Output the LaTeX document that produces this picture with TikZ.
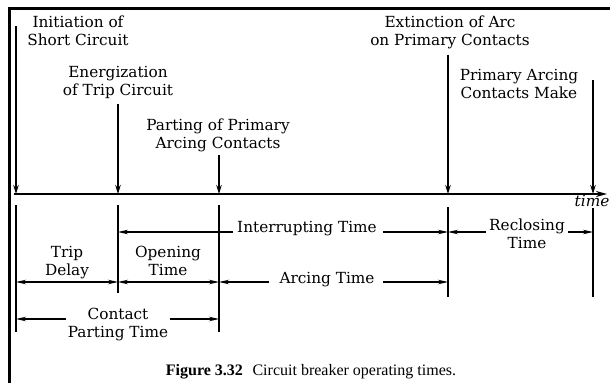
\documentclass[tikz,border=0pt]{standalone}
\usepackage{fontspec}
\setmainfont{DejaVu Serif}
\newfontfamily\capfont{Liberation Serif}
\usetikzlibrary{arrows.meta,calc}
\begin{document}
\begin{tikzpicture}[x=1pt,y=-1pt,
  lbl/.style={font=\fontsize{15.3}{17.5}\selectfont, align=center, inner sep=0pt, anchor=base},
  frame/.style={line width=2.4pt},
  axisline/.style={line width=1.8pt, -{Stealth[length=11pt,width=6pt]}},
  drop/.style={line width=1.5pt, -{Stealth[length=9pt,width=5.5pt]}},
  bar/.style={line width=1.4pt},
  span/.style={line width=1.1pt, -{Stealth[length=10pt,width=4.5pt]}},
  both/.style={line width=1.1pt, {Stealth[length=10pt,width=4.5pt]}-{Stealth[length=10pt,width=4.5pt]}},
]
\useasboundingbox (0,0) rectangle (610,383);

% page frame (top and left rules)
\draw[frame] (9.5,383) -- (9.5,8.5) -- (610,8.5);

% time axis and event instants
\coordinate (a0) at (14,194);
\coordinate (a1) at (607,194);
\draw[axisline] (a0) -- (a1);
\coordinate (e1) at (16,194);
\coordinate (e2) at (118,194);
\coordinate (e3) at (219,194);
\coordinate (e4) at (448,194);
\coordinate (e5) at (593,194);
\node[lbl, font=\fontsize{15.3}{17.5}\selectfont\itshape] (timelbl) at (592,206) {time};

% event labels (placed by the baseline of their last line) and their arrows
\node[lbl] (initiation) at (78,45) {Initiation of\\Short Circuit};
\node[lbl] (energ) at (118,95) {Energization\\of Trip Circuit};
\node[lbl] (parting) at (218,148) {Parting of Primary\\Arcing Contacts};
\node[lbl] (extinct) at (450,45) {Extinction of Arc\\on Primary Contacts};
\node[lbl] (make) at (519,98) {Primary Arcing\\Contacts Make};

\coordinate (s1) at (16,26);
\coordinate (s5) at (593,80);
\draw[drop] (s1) -- (e1);
\draw[drop] ($(energ.south -| e2)+(0,6)$) -- (e2);
\draw[drop] ($(parting.south -| e3)+(0,3)$) -- (e3);
\draw[drop] ($(extinct.south -| e4)+(0,6)$) -- (e4);
\draw[drop] (s5) -- (e5);

% interval bars below the axis
\coordinate (b1t) at (16,205);  \coordinate (b1b) at (16,332);
\coordinate (b2t) at (118,205); \coordinate (b2b) at (118,293);
\coordinate (b3t) at (219,205); \coordinate (b3b) at (219,332);
\coordinate (b4t) at (448,207); \coordinate (b4b) at (448,297);
\coordinate (b5t) at (593,208); \coordinate (b5b) at (593,297);
\draw[bar] (b1t) -- (b1b);
\draw[bar] (b2t) -- (b2b);
\draw[bar] (b3t) -- (b3b);
\draw[bar] (b4t) -- (b4b);
\draw[bar] (b5t) -- (b5b);

% rows of interval arrows
\coordinate (rowA) at (0,232);
\coordinate (rowB) at (0,282);
\coordinate (rowC) at (0,319);

\node[lbl] (intr) at (307,232) {Interrupting Time};
\draw[span] ($(intr.west |- rowA)+(-4,0)$) -- (b2t |- rowA);
\draw[span] ($(intr.east |- rowA)+(6,0)$) -- (b4t |- rowA);

\node[lbl] (reclose) at (527,248) {Reclosing\\Time};
\draw[span] ($(reclose.west |- rowA)+(-3,0)$) -- (b4t |- rowA);
\draw[span] ($(reclose.east |- rowA)+(3,0)$) -- (b5t |- rowA);

\node[lbl] (trip) at (67,275) {Trip\\Delay};
\node[lbl] (open) at (168,275) {Opening\\Time};
\draw[both] (b1t |- rowB) -- (b2t |- rowB);
\draw[both] (b2t |- rowB) -- (b3t |- rowB);

\node[lbl] (arcing) at (327,283) {Arcing Time};
\draw[span] ($(arcing.west |- rowB)+(-10,0)$) -- (b3t |- rowB);
\draw[span] ($(arcing.east |- rowB)+(8,0)$) -- (b4t |- rowB);

\node[lbl] (contact) at (118,337) {Contact\\Parting Time};
\draw[span] ($(contact.west |- rowC)+(-2,0)$) -- (b1t |- rowC);
\draw[span] ($(contact.east |- rowC)+(2,0)$) -- (b3t |- rowC);

% caption
\node[anchor=base, inner sep=0pt, font=\capfont\fontsize{16}{18}\selectfont] (caption) at (311,375)
  {\textbf{Figure 3.32}\hspace{0.6em}Circuit breaker operating times.};
\end{tikzpicture}
\end{document}
